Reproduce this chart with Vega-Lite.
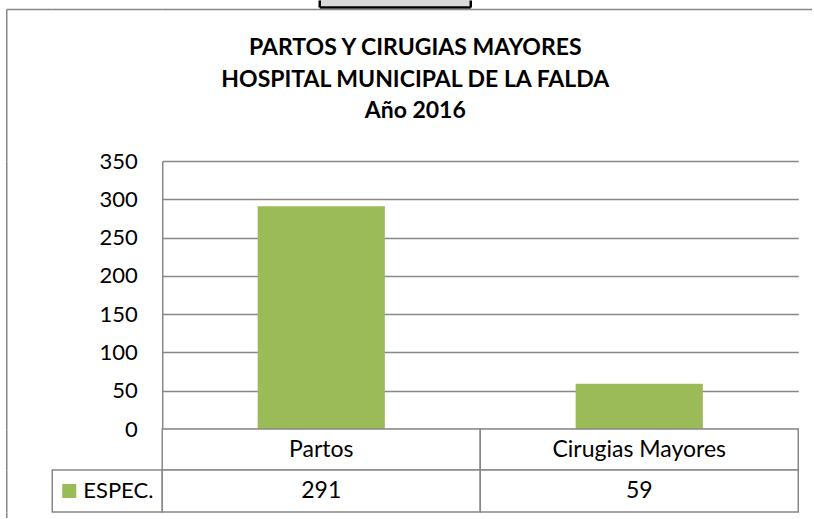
{
  "$schema": "https://vega.github.io/schema/vega-lite/v6.json",
  "background": "white",
  "padding": {"left": 6.25, "top": 0, "right": 0, "bottom": 0},
  "data": {"values": [
    {"categoria": "Partos", "cantidad": 291, "serie": "ESPEC."},
    {"categoria": "Cirugias Mayores", "cantidad": 59, "serie": "ESPEC."}
  ]},
  "config": {"view": {"stroke": null}},
  "title": {
    "text": ["PARTOS Y CIRUGIAS MAYORES", "HOSPITAL MUNICIPAL DE LA FALDA", "Año 2016"],
    "font": "Lato", "fontSize": 23, "fontWeight": "bold", "color": "black",
    "lineHeight": 31.5, "anchor": "middle", "dx": 6, "offset": -123
  },
  "columns": 3,
  "spacing": 0,
  "bounds": "flush",
  "concat": [
    {"width": 46, "height": 9, "data": {"values": []}, "mark": "point", "encoding": {}},
    {"width": 110, "height": 9, "data": {"values": []}, "mark": "point", "encoding": {}},
    {
      "spacing": 0,
      "bounds": "flush",
      "hconcat": [
        {"width": 157, "height": 9, "data": {"values": []}, "mark": "point", "encoding": {}},
        {
          "width": 151, "height": 7,
          "view": {"fill": "#d9d9d9", "stroke": null},
          "layer": [
            {
              "mark": {"type": "rect", "opacity": 0},
              "encoding": {
                "x": {"field": "categoria", "type": "nominal", "axis": {"orient": "bottom", "labels": false, "ticks": false, "title": null, "domainColor": "black", "domainWidth": 2.5}},
                "y": {"field": "categoria", "type": "nominal", "axis": {"orient": "left", "labels": false, "ticks": false, "title": null, "domainColor": "black", "domainWidth": 2.5}}
              }
            },
            {
              "mark": {"type": "rect", "opacity": 0},
              "encoding": {
                "y": {"field": "categoria", "type": "nominal", "axis": {"orient": "right", "labels": false, "ticks": false, "title": null, "domainColor": "black", "domainWidth": 2.5}}
              }
            }
          ],
          "resolve": {"axis": {"y": "independent"}}
        }
      ]
    },
    {
      "width": 46, "height": 152,
      "mark": {"type": "rect", "opacity": 0},
      "encoding": {
        "x": {"field": "categoria", "type": "nominal", "axis": {"orient": "top", "labels": false, "ticks": false, "title": null, "domainColor": "#888888", "domainWidth": 1.5}},
        "y": {"field": "categoria", "type": "nominal", "axis": {"orient": "left", "labels": false, "ticks": false, "title": null, "domainColor": "#888888", "domainWidth": 1.5}}
      }
    },
    {
      "width": 110, "height": 152,
      "mark": {"type": "rect", "opacity": 0},
      "encoding": {
        "x": {"field": "categoria", "type": "nominal", "axis": {"orient": "top", "labels": false, "ticks": false, "title": null, "domainColor": "#888888", "domainWidth": 1.5}}
      }
    },
    {
      "width": 650, "height": 152,
      "mark": {"type": "rect", "opacity": 0},
      "encoding": {
        "x": {"field": "categoria", "type": "nominal", "axis": {"orient": "top", "labels": false, "ticks": false, "title": null, "domainColor": "#888888", "domainWidth": 1.5}}
      }
    },
    {
      "width": 46, "height": 268,
      "mark": {"type": "rect", "opacity": 0},
      "encoding": {
        "y": {"field": "categoria", "type": "nominal", "axis": {"orient": "left", "labels": false, "ticks": false, "title": null, "domainColor": "#888888", "domainWidth": 1.5}}
      }
    },
    {"width": 110, "height": 268, "data": {"values": []}, "mark": "point", "encoding": {}},
    {
      "width": 636, "height": 268,
      "mark": {"type": "bar"},
      "encoding": {
        "x": {"field": "categoria", "type": "nominal", "sort": null, "axis": null,
              "scale": {"paddingInner": 0.6, "paddingOuter": 0.3}},
        "y": {"field": "cantidad", "type": "quantitative",
              "scale": {"domain": [0, 350], "nice": false},
              "axis": {"title": null, "values": [0, 50, 100, 150, 200, 250, 300, 350],
                       "ticks": false, "labelPadding": 25, "labelFont": "Lato", "labelFontSize": 22,
                       "labelColor": "black", "domainColor": "#888888", "domainWidth": 1.5,
                       "grid": true, "gridColor": "#888888", "gridWidth": 1.5}},
        "color": {"field": "serie", "type": "nominal", "scale": {"range": ["#9BBB59"]},
                  "legend": {"title": null, "orient": "none", "legendX": 52, "legendY": 480,
                             "padding": 0, "symbolType": "square", "symbolSize": 196,
                             "symbolStrokeWidth": 0, "labelFont": "Lato", "labelFontSize": 22,
                             "labelColor": "black", "labelOffset": 3}}
      }
    },
    {
      "width": 46, "height": 41,
      "mark": {"type": "rect", "opacity": 0},
      "encoding": {
        "y": {"field": "categoria", "type": "nominal", "axis": {"orient": "left", "labels": false, "ticks": false, "title": null, "domainColor": "#888888", "domainWidth": 1.5}}
      }
    },
    {"width": 110, "height": 41, "data": {"values": []}, "mark": "point", "encoding": {}},
    {
      "width": 636, "height": 41,
      "layer": [
        {
          "mark": {"type": "rect", "fill": "white", "stroke": "#888888", "strokeWidth": 1.5},
          "encoding": {
            "x": {"field": "categoria", "type": "nominal", "sort": null, "axis": null,
                  "scale": {"paddingInner": 0, "paddingOuter": 0}}
          }
        },
        {
          "mark": {"type": "text", "font": "Lato", "fontSize": 23, "color": "black", "baseline": "middle"},
          "encoding": {
            "x": {"field": "categoria", "type": "nominal", "sort": null, "axis": null},
            "text": {"field": "categoria"}
          }
        }
      ]
    },
    {
      "width": 46, "height": 42,
      "mark": {"type": "rect", "opacity": 0},
      "encoding": {
        "y": {"field": "categoria", "type": "nominal", "axis": {"orient": "left", "labels": false, "ticks": false, "title": null, "domainColor": "#888888", "domainWidth": 1.5}}
      }
    },
    {
      "width": 110, "height": 42,
      "view": {"stroke": "#888888", "strokeWidth": 1.5},
      "data": {"values": []}, "mark": "point", "encoding": {}
    },
    {
      "width": 636, "height": 42,
      "layer": [
        {
          "mark": {"type": "rect", "fill": "white", "stroke": "#888888", "strokeWidth": 1.5},
          "encoding": {
            "x": {"field": "categoria", "type": "nominal", "sort": null, "axis": null,
                  "scale": {"paddingInner": 0, "paddingOuter": 0}}
          }
        },
        {
          "mark": {"type": "text", "font": "Lato", "fontSize": 23, "color": "black", "baseline": "middle"},
          "encoding": {
            "x": {"field": "categoria", "type": "nominal", "sort": null, "axis": null},
            "text": {"field": "cantidad", "type": "quantitative"}
          }
        }
      ]
    },
    {
      "width": 46, "height": 6,
      "mark": {"type": "rect", "opacity": 0},
      "encoding": {
        "y": {"field": "categoria", "type": "nominal", "axis": {"orient": "left", "labels": false, "ticks": false, "title": null, "domainColor": "#888888", "domainWidth": 1.5}}
      }
    },
    {"width": 110, "height": 6, "data": {"values": []}, "mark": "point", "encoding": {}},
    {"width": 636, "height": 6, "data": {"values": []}, "mark": "point", "encoding": {}}
  ]
}
